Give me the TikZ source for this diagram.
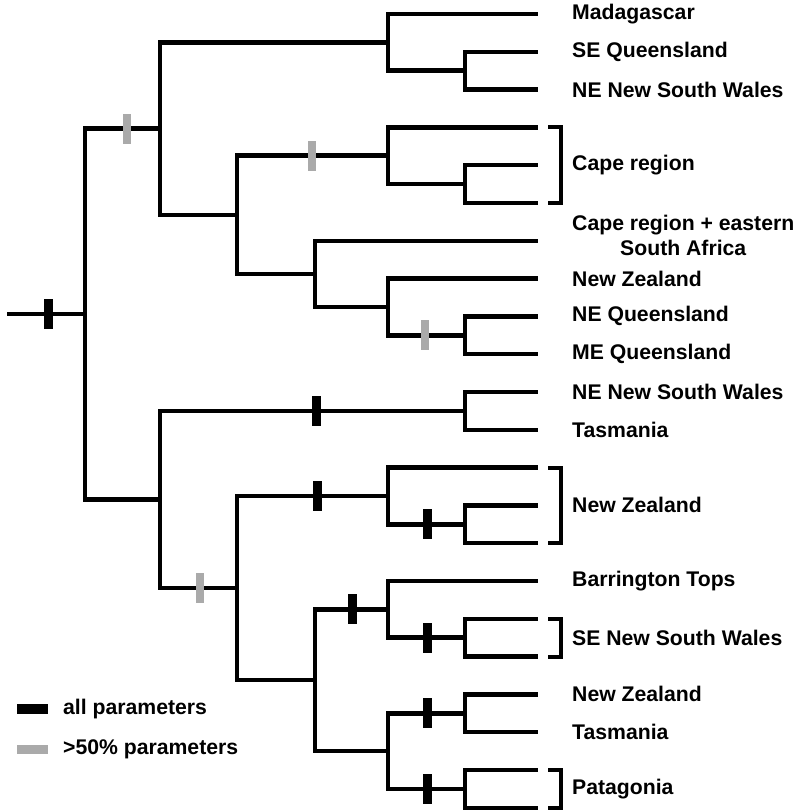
\documentclass[tikz,border=0pt]{standalone}
\usepackage{fontspec}
\setmainfont{Liberation Sans}
\usetikzlibrary{calc}
\definecolor{halfgray}{HTML}{AAAAAA}
\tikzset{
	branch/.style={draw, line width=4.5pt, line join=miter},
	bracket/.style={draw, line width=4pt},
	allbar/.style={fill=black, inner sep=0pt, minimum width=9pt, minimum height=30pt},
	halfbar/.style={fill=halfgray, inner sep=0pt, minimum width=8pt, minimum height=30pt},
	taxon/.style={anchor=west, inner sep=0pt, font=\fontsize{21.2}{25}\selectfont\bfseries}
}

\begin{document}
\begin{tikzpicture}[x=1pt, y=-1pt]
	\useasboundingbox (0,0) rectangle (797,810);

	% tips
	\foreach \i in {1,...,22}
		\coordinate (t\i) at (538,{14+(\i-1)*37.8});

	% internal nodes
	\coordinate (root) at (7,314.05);
	\coordinate (A) at (85,314.05);
	\coordinate (B) at (160,128.6);
	\coordinate (C) at (388,42.35);
	\coordinate (D) at (465,70.7);
	\coordinate (E) at (237,214.8);
	\coordinate (F) at (388,155.75);
	\coordinate (G) at (465,184.1);
	\coordinate (H) at (315,273.9);
	\coordinate (I) at (388,306.95);
	\coordinate (J) at (465,335.3);
	\coordinate (K) at (160,499.5);
	\coordinate (L) at (465,410.9);
	\coordinate (M) at (237,588.1);
	\coordinate (N) at (388,495.95);
	\coordinate (O) at (465,524.3);
	\coordinate (P) at (315,680.2);
	\coordinate (Q) at (388,609.35);
	\coordinate (R) at (465,637.7);
	\coordinate (S) at (388,751.1);
	\coordinate (T) at (465,713.3);
	\coordinate (U) at (465,788.9);

	% branches
	\draw[branch] (root) -- (A);
	\foreach \p/\c in {A/B, A/K, B/C, B/E, C/t1, C/D, D/t2, D/t3,
		E/F, E/H, F/t4, F/G, G/t5, G/t6, H/t7, H/I, I/t8, I/J, J/t9, J/t10,
		K/L, K/M, L/t11, L/t12, M/N, M/P, N/t13, N/O, O/t14, O/t15,
		P/Q, P/S, Q/t16, Q/R, R/t17, R/t18, S/T, S/U, T/t19, T/t20, U/t21, U/t22}
		\draw[branch] (\p) |- (\c);

	% support bars
	\foreach \x/\c [count=\k] in {48/A, 316/L, 317/N, 427/O, 352/Q, 427/R, 427/T, 427/U}
		\node[allbar] (all\k) at (\x,0 |- \c) {};
	\foreach \x/\c [count=\k] in {127/B, 312/F, 425/J, 200/M}
		\node[halfbar] (half\k) at (\x,0 |- \c) {};

	% brackets
	\draw[bracket] (548,0 |- t4) -| (561,0 |- t6) -- (548,0 |- t6);
	\draw[bracket] (548,0 |- t13) -| (561,0 |- t15) -- (548,0 |- t15);
	\draw[bracket] (548,0 |- t17) -| (561,0 |- t18) -- (548,0 |- t18);
	\draw[bracket] (548,0 |- t21) -| (561,0 |- t22) -- (548,0 |- t22);

	% labels
	\foreach \c/\txt [count=\k] in {t1/Madagascar, t2/SE Queensland, t3/NE New South Wales,
		t8/New Zealand, t9/NE Queensland, t10/ME Queensland, t11/NE New South Wales,
		t12/Tasmania, t16/Barrington Tops, t19/New Zealand, t20/Tasmania}
		\node[taxon] (lab\k) at (572,0 |- \c) {\txt};
	\node[taxon] (cape) at ($(572,0 |- t4)!.5!(572,0 |- t6)$) {Cape region};
	\node[taxon, align=center] (capeeast) at (572,235) {Cape region + eastern\\South Africa};
	\node[taxon] (nz) at ($(572,0 |- t13)!.5!(572,0 |- t15)$) {New Zealand};
	\node[taxon] (sensw) at ($(572,0 |- t17)!.5!(572,0 |- t18)$) {SE New South Wales};
	\node[taxon] (pat) at ($(572,0 |- t21)!.5!(572,0 |- t22)$) {Patagonia};

	% key
	\node[fill=black, inner sep=0pt, minimum width=31pt, minimum height=10pt] (keyall) at (32,709) {};
	\node[fill=halfgray, inner sep=0pt, minimum width=31pt, minimum height=9pt] (keyhalf) at (32,749) {};
	\node[taxon] (keyalltxt) at (63,709) {all parameters};
	\node[taxon] (keyhalftxt) at (63,749) {>50\% parameters};
\end{tikzpicture}
\end{document}
